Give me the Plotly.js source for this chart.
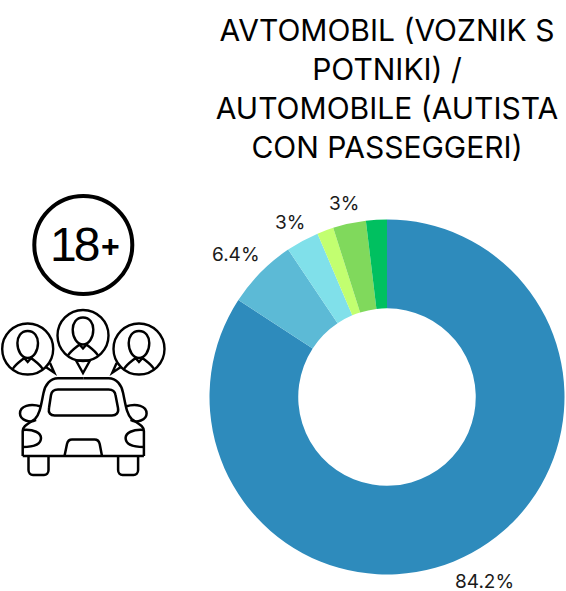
<!DOCTYPE html>
<html><head><meta charset="utf-8">
<script src="https://cdn.plot.ly/plotly-3.0.1.min.js"></script>
<style>html,body{margin:0;padding:0;background:#fff}
.annotation[data-index="4"] text{letter-spacing:-3px}</style></head>
<body><div id="chart" style="width:566px;height:591px"></div>
<script>
const categories = ['A','B','C','D','E','F'];
const shares = [84.2, 6.4, 3, 1.5, 3, 1.9];
const sliceLabels = ['84.2%','6.4%','3%','3%'];
const labelCentres = [[484,581],[236,254],[290,222],[344,204]];
const sliceColors = ['#2E8BBC','#5CBAD6','#80E0EA','#C2FF70','#80D95C','#00C060'];
const titleText = 'AVTOMOBIL (VOZNIK S<br>POTNIKI) /<br>AUTOMOBILE (AUTISTA<br>CON PASSEGGERI)';
const W=566,H=591, FONT='Inter, "Open Sans", sans-serif';
const px=x=>x/W, py=y=>1-y/H, mx=x=>166.6-x;
function path(d,w,fill){
  const s=d.replace(/(-?[\d.]+),(-?[\d.]+)/g,(m,a,b)=>px(+a).toFixed(5)+','+py(+b).toFixed(5));
  return {type:'path',xref:'paper',yref:'paper',path:s,line:{color:'#000',width:w||2.5},fillcolor:'rgba(0,0,0,0)'};
}
function circ(cx,cy,r,w){
  return {type:'circle',xref:'paper',yref:'paper',x0:px(cx-r),x1:px(cx+r),y0:py(cy+r),y1:py(cy-r),line:{color:'#000',width:w}};
}
function mirror(d){return d.replace(/(-?[\d.]+),(-?[\d.]+)/g,(m,a,b)=>mx(+a).toFixed(2)+','+b);}
function both(d,w){return [path(d,w),path(mirror(d),w)];}
function person(cx,cy){
  const p=(dx,dy)=>(cx+dx)+','+(cy+dy);
  return [
    circ(cx,cy,25.5,2.4),
    path('M '+p(0,-18)+' C '+p(7,-18)+' '+p(10.3,-12)+' '+p(10.3,-6)+' C '+p(10.3,2)+' '+p(6,9)+' '+p(0,9)+' C '+p(-6,9)+' '+p(-10.3,2)+' '+p(-10.3,-6)+' C '+p(-10.3,-12)+' '+p(-7,-18)+' '+p(0,-18)+' Z',2.4),
    path('M '+p(-15,20)+' C '+p(-12,15)+' '+p(-7,12)+' '+p(-3.5,9)+' L '+p(0,13)+' L '+p(3.5,9)+' C '+p(7,12)+' '+p(12,15)+' '+p(15,20),2.4)
  ];
}
const body='M 22.7,456 L 22.7,431 C 22.7,426 28,424 35,419 C 40,414 41,405 43.5,393 C 45,385 50,378.3 58,378.3 L 83.3,378.3';
const shapes=[
  circ(83.3,245,49,4),
  ...person(83,335.5),...person(27.7,349),...person(139,349),
  path('M 76,360.5 L 83,373 L 90,360.5 Z',2.4),
  ...both('M 45,366.5 L 54.3,372.7 L 50,363',2.4),
  ...both(body),
  path('M 22.7,456 L 143.9,456'),
  path('M 58,389.5 L 108.6,389.5 C 113,389.5 115,392 115.5,395 L 118,408 C 119,413 116,415.5 112,415.5 L 54.6,415.5 C 50.6,415.5 48,413 49,408 L 51,395 C 51.5,392 54,389.5 58,389.5 Z'),
  ...both('M 41,406.5 C 30,403 20,406 20,413.5 C 20,420 30,423.5 36,420'),
  ...both('M 22.7,430 C 34,429 41,433 41,438 C 41,444 34,447 22.7,447'),
  path('M 64.5,456 L 67,444 C 67.7,441 69.5,439.5 72,439.5 L 94.6,439.5 C 97,439.5 99,441 99.7,444 L 102,456'),
  ...both('M 28.5,456 L 28.5,470 C 28.5,473 30.5,475 33,475 L 44,475 C 46.5,475 48.5,473 48.5,470 L 48.5,456')
];
const labelNotes = sliceLabels.map((t,i)=>({xref:'paper',yref:'paper',x:px(labelCentres[i][0]),y:py(labelCentres[i][1]),xanchor:'center',yanchor:'middle',text:t,showarrow:false,font:{family:FONT,size:19,color:'#1a1a1a'}}));
Plotly.newPlot('chart',[{
  type:'pie',labels:categories,values:shares,textinfo:'none',
  hole:0.5,sort:false,direction:'clockwise',rotation:0,showlegend:false,
  marker:{colors:sliceColors,line:{width:0}},
  domain:{x:[209.5/W,564.5/W],y:[1-574.5/H,1-219.5/H]}
}],{
  width:W,height:H,margin:{l:0,r:0,t:0,b:0},paper_bgcolor:'#fff',showlegend:false,
  title:{text:titleText,x:387/W,xanchor:'center',y:1-41/H,yanchor:'top',font:{family:FONT,size:30,color:'#000'}},
  shapes:shapes,
  annotations:labelNotes.concat([
    {xref:'paper',yref:'paper',x:px(73),y:py(244.5),xanchor:'center',yanchor:'middle',text:'18',showarrow:false,font:{family:'"Liberation Sans",sans-serif',size:48,color:'#000'}},
    {xref:'paper',yref:'paper',x:px(110),y:py(246),xanchor:'center',yanchor:'middle',text:'+',showarrow:false,font:{family:'"Liberation Sans",sans-serif',size:32,color:'#000',weight:700}}
  ])
},{displayModeBar:false,staticPlot:true});
</script></body></html>
